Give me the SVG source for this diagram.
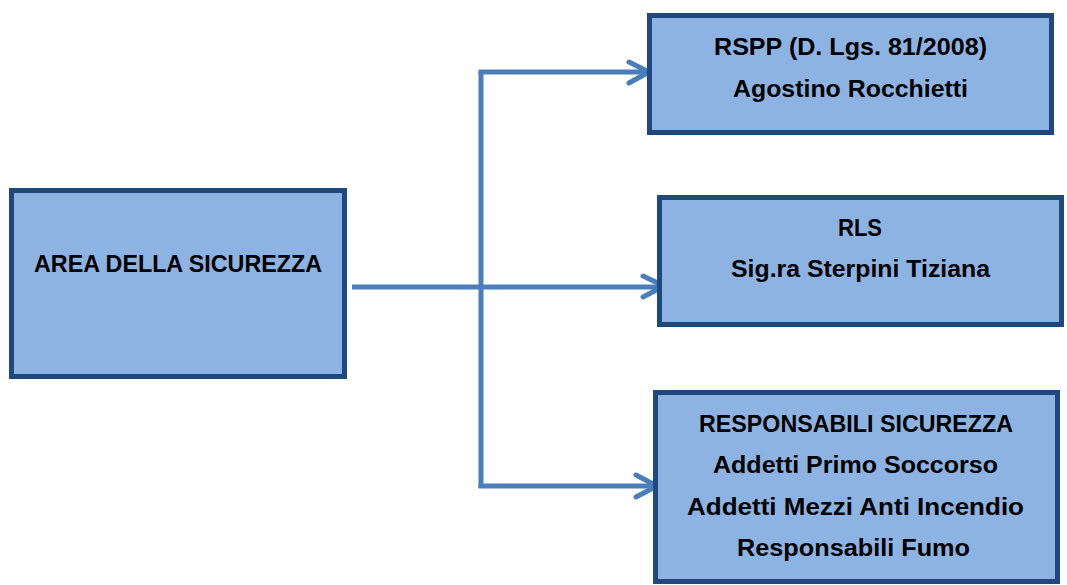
<svg xmlns="http://www.w3.org/2000/svg" width="1067" height="585" viewBox="0 0 1067 585">
<style>
.box{fill:#8db3e2;stroke:#1f497d;stroke-width:5}
.t{font-family:"Liberation Sans",Arial,sans-serif;font-weight:bold;font-size:24px;fill:#000;text-anchor:middle}
.c{fill:none;stroke:#4a7ebb;stroke-width:5;stroke-linejoin:miter}
.h{fill:none;stroke:#4a7ebb;stroke-width:5;stroke-linecap:round;stroke-linejoin:round}
</style>
<rect width="1067" height="585" fill="#fff"/>
<g id="connectors">
<path class="c" d="M352 287H662"/>
<path class="c" d="M481 72V488"/>
<path class="c" d="M478.5 72H647"/>
<path class="c" d="M478.5 486H655"/>
<path class="h" d="M629 62L649 72L629 83"/>
<path class="h" d="M643 276L664 286L643 297"/>
<path class="h" d="M636 475L657 486L636 497"/>
</g>
<g id="area">
<rect class="box" x="11.5" y="190.5" width="333" height="186"/>
<text class="t" x="178" y="272" textLength="288" lengthAdjust="spacingAndGlyphs">AREA DELLA SICUREZZA</text>
</g>
<g id="rspp">
<rect class="box" x="649.5" y="15.5" width="402" height="117"/>
<text class="t" x="850.5" y="55" textLength="273" lengthAdjust="spacingAndGlyphs">RSPP (D. Lgs. 81/2008)</text>
<text class="t" x="850.5" y="97" textLength="235" lengthAdjust="spacingAndGlyphs">Agostino Rocchietti</text>
</g>
<g id="rls">
<rect class="box" x="659.5" y="197.5" width="402" height="127"/>
<text class="t" x="860" y="236" textLength="44" lengthAdjust="spacingAndGlyphs">RLS</text>
<text class="t" x="860.5" y="277" textLength="259" lengthAdjust="spacingAndGlyphs">Sig.ra Sterpini Tiziana</text>
</g>
<g id="responsabili">
<rect class="box" x="655.5" y="392.5" width="402" height="189"/>
<text class="t" x="856" y="432" textLength="314" lengthAdjust="spacingAndGlyphs">RESPONSABILI SICUREZZA</text>
<text class="t" x="855.5" y="473" textLength="285" lengthAdjust="spacingAndGlyphs">Addetti Primo Soccorso</text>
<text class="t" x="855.5" y="515" textLength="337" lengthAdjust="spacingAndGlyphs">Addetti Mezzi Anti Incendio</text>
<text class="t" x="853.5" y="556" textLength="233" lengthAdjust="spacingAndGlyphs">Responsabili Fumo</text>
</g>
</svg>
